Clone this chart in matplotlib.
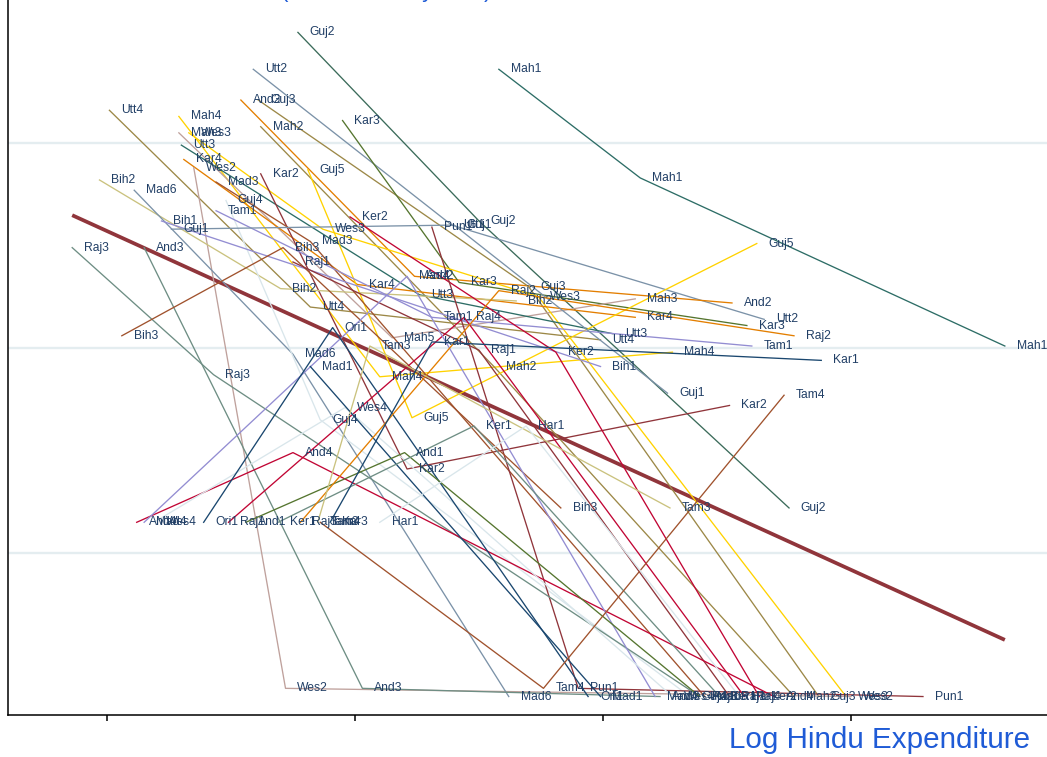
import matplotlib
matplotlib.use("Agg")
import matplotlib.pyplot as plt

# one path per district: (log Hindu expenditure, outcome) for each round,
# and the id printed beside each point
paths_x = [
    [7.58, 8.15, 9.62],        # Mah1
    [6.77, 7.50, 8.75],        # Guj2
    [6.59, 7.39, 8.65],        # Utt2
    [6.54, 7.24, 8.52],        # And2
    [6.61, 7.70, 8.87],        # Guj3
    [6.01, 6.82, 7.99],        # Utt4
    [6.29, 7.10, 8.28],        # Mah4
    [6.95, 7.42, 8.58],        # Kar3
    [6.62, 7.56, 8.77],        # Mah2
    [6.29, 7.15, 8.13],        # Mah3
    [6.33, 6.87, 7.74, 8.98],  # Wes3
    [6.30, 7.26, 8.04],        # Utt3
    [6.31, 7.01, 8.13],        # Kar4
    [6.35, 6.72, 9.00],        # Wes2
    [6.62, 7.21, 8.51],        # Kar2
    [6.81, 7.23, 8.62],        # Guj5
    [5.97, 6.70, 7.65],        # Bih2
    [6.11, 6.75, 7.62],        # Mad6
    [6.44, 6.82, 8.41],        # Mad3
    [6.48, 6.86, 8.35],        # Guj4
    [6.44, 7.31, 8.60],        # Tam1
    [6.22, 7.99],              # Bih1
    [6.26, 7.40, 8.26],        # Guj1
    [6.98, 7.81, 8.63],        # Ker2
    [7.31, 7.90, 9.29],        # Pun1
    [5.86, 6.43, 8.39],        # Raj3
    [6.15, 7.03, 8.23],        # And3
    [6.06, 6.71, 7.83],        # Bih3
    [6.75, 7.50, 8.51],        # Raj1
    [6.49, 7.44, 8.57],        # Raj4
    [6.12, 6.75, 8.69],        # And4
    [6.15, 7.21, 8.21],        # Mad4
    [6.19, 6.96, 8.28],        # Wes4
    [6.39, 6.91, 7.94],        # Ori1
    [6.82, 7.99],              # Mad1
    [6.56, 7.20, 8.39],        # And1
    [6.69, 7.48, 8.47],        # Ker1
    [6.78, 7.58, 8.77],        # Raj2
    [6.85, 7.06, 8.27],        # Tam3
    [6.90, 7.31, 8.88],        # Kar1
    [6.86, 7.76, 8.73],        # Tam4
    [7.10, 7.69, 8.55],        # Har1
]
paths_y = [
    [3.36, 2.83, 2.01],
    [3.54, 2.62, 1.22],
    [3.36, 2.60, 2.14],
    [3.21, 2.35, 2.22],
    [3.21, 2.30, 0.30],
    [3.16, 2.20, 2.04],
    [3.13, 1.86, 1.98],
    [3.11, 2.32, 2.11],
    [3.08, 1.91, 0.30],
    [3.05, 2.05, 2.24],
    [3.05, 2.58, 2.25, 0.30],
    [2.99, 2.26, 2.07],
    [2.92, 2.31, 2.15],
    [2.88, 0.34, 0.30],
    [2.85, 1.41, 1.72],
    [2.87, 1.66, 2.51],
    [2.82, 2.29, 2.23],
    [2.77, 1.97, 0.30],
    [2.81, 2.52, 0.30],
    [2.72, 1.65, 0.30],
    [2.67, 2.15, 2.01],
    [2.62, 1.91],
    [2.58, 2.60, 1.78],
    [2.64, 1.98, 0.30],
    [2.59, 0.34, 0.30],
    [2.49, 1.87, 0.30],
    [2.49, 0.34, 0.30],
    [2.06, 2.49, 1.22],
    [2.42, 1.99, 0.30],
    [1.15, 2.15, 0.30],
    [1.15, 1.49, 0.30],
    [1.15, 2.35, 0.30],
    [1.15, 1.71, 0.30],
    [1.15, 2.10, 0.30],
    [1.91, 0.30],
    [1.15, 1.49, 0.30],
    [1.15, 1.62, 0.30],
    [1.15, 2.28, 2.06],
    [1.15, 2.01, 1.22],
    [1.15, 2.03, 1.94],
    [1.15, 0.34, 1.77],
    [1.15, 1.62, 0.30],
]
paths_lab = [
    ["Mah1", "Mah1", "Mah1"],
    ["Guj2", "Guj2", "Guj2"],
    ["Utt2", "Utt1", "Utt2"],
    ["And2", "And2", "And2"],
    ["Guj3", "Guj3", "Guj3"],
    ["Utt4", "Utt4", "Utt4"],
    ["Mah4", "Mah4", "Mah4"],
    ["Kar3", "Kar3", "Kar3"],
    ["Mah2", "Mah2", "Mah2"],
    ["Mah3", "Mah5", "Mah3"],
    ["Wes3", "Wes3", "Wes3", "Wes3"],
    ["Utt3", "Utt3", "Utt3"],
    ["Kar4", "Kar4", "Kar4"],
    ["Wes2", "Wes2", "Wes2"],
    ["Kar2", "Kar2", "Kar2"],
    ["Guj5", "Guj5", "Guj5"],
    ["Bih2", "Bih2", "Bih2"],
    ["Mad6", "Mad6", "Mad6"],
    ["Mad3", "Mad3", "Mad3"],
    ["Guj4", "Guj4", "Guj4"],
    ["Tam1", "Tam1", "Tam1"],
    ["Bih1", "Bih1"],
    ["Guj1", "Guj1", "Guj1"],
    ["Ker2", "Ker2", "Ker2"],
    ["Pun1", "Pun1", "Pun1"],
    ["Raj3", "Raj3", "Raj3"],
    ["And3", "And3", "And3"],
    ["Bih3", "Bih3", "Bih3"],
    ["Raj1", "Raj1", "Raj1"],
    ["Raj1", "Raj4", "Raj4"],
    ["And4", "And4", "And4"],
    ["Mad4", "Mad4", "Mad4"],
    ["Wes4", "Wes4", "Wes4"],
    ["Ori1", "Ori1", "Ori1"],
    ["Mad1", "Mad1"],
    ["And1", "And1", "And1"],
    ["Ker1", "Ker1", "Ker1"],
    ["Raj3", "Raj2", "Raj2"],
    ["Tam3", "Tam3", "Tam3"],
    ["Kar3", "Kar1", "Kar1"],
    ["Tam4", "Tam4", "Tam4"],
    ["Har1", "Har1", "Har1"],
]

# pooled linear fit drawn across the sample
fit_intercept = 5.877
fit_slope = -0.551
fit_x = [5.86, 9.62]

# stata s2color palette
navy, maroon, forest, dkorange = "#1a476f", "#90353b", "#55752f", "#e37e00"
teal, cranberry, lavender, khaki = "#6e8e84", "#c10534", "#938dd2", "#cac27e"
sienna, emidblue, emerald, brown = "#a0522d", "#7b92a8", "#2d6d66", "#9c8847"
erose, gold, bluishgray = "#bfa19c", "#ffd200", "#d9e6eb"

path_colors = [
    emerald, "#3b6b5a", emidblue, dkorange, brown, brown, gold, forest,
    brown, erose, gold, emerald, dkorange, erose, maroon, gold, khaki,
    emidblue, sienna, bluishgray, lavender, lavender, emidblue, cranberry,
    maroon, teal, teal, sienna, maroon, cranberry, cranberry, lavender,
    bluishgray, navy, navy, forest, teal, dkorange, khaki, navy, sienna,
    bluishgray,
]

plt.rcParams['font.family'] = ['Liberation Sans', 'DejaVu Sans']

fig = plt.figure(figsize=(10.47, 7.57), dpi=100)
ax = fig.add_axes([0.0076, 0.0555, 0.9924, 0.9445])
ax.set_xlim(5.601, 9.79)
ax.set_ylim(0.21, 3.698)

for gy in [1, 2, 3]:
    ax.axhline(gy, color="#e4edf0", lw=1.7, zorder=0)

fit_y = [fit_intercept + fit_slope * v for v in fit_x]
ax.plot(fit_x, fit_y, color=maroon, lw=2.7, zorder=1, solid_capstyle='butt')

for xs, ys, labs, col in zip(paths_x, paths_y, paths_lab, path_colors):
    ax.plot(xs, ys, color=col, lw=0.95, zorder=2)
    for x, y, lab in zip(xs, ys, labs):
        ax.annotate(lab, (x, y), xytext=(8.5, 0), textcoords='offset points',
                    ha='left', va='center', fontsize=8.7, color="#213f66",
                    zorder=3)

for side in ['top', 'right']:
    ax.spines[side].set_visible(False)
ax.spines['left'].set_linewidth(1.1)
ax.spines['bottom'].set_linewidth(1.1)
ax.set_xticks([6, 7, 8, 9])
ax.set_xticklabels([])
ax.set_yticks([])
ax.tick_params(axis='x', direction='out', length=4, width=1.1)

fig.text(0.984, 0.0225, "Log Hindu Expenditure", ha='right', va='center',
         fontsize=21.3, color="#1f5bd6")
fig.text(0.369, 1.004, "(Hindu Riots by Year)", ha='center', va='baseline',
         fontsize=16, color="#1f5bd6")

fig.savefig("out.png", dpi=100)
